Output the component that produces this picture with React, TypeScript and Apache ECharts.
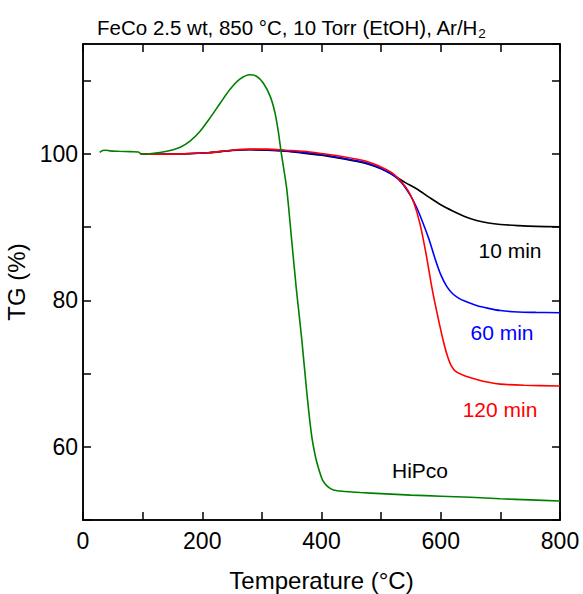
import React, { useEffect, useRef } from "react";
import * as echarts from "echarts";

const FONT = '"Liberation Sans", Arial, Helvetica, sans-serif';

// HiPco (green)
const hipcoT = [28, 33, 38, 45, 60, 80, 93, 97, 99, 112, 129, 146, 163, 179, 196, 213, 230, 246, 263, 280, 291, 302, 314, 322, 328, 332, 337, 342, 350, 358, 367, 375, 383, 390, 396, 402, 410, 420, 440, 465, 500, 550, 600, 650, 700, 750, 800];
const hipcoTG = [100.2, 100.45, 100.5, 100.4, 100.35, 100.3, 100.25, 100.0, 99.95, 100.02, 100.18, 100.45, 100.9, 101.7, 103.05, 104.9, 106.9, 108.75, 110.2, 110.8, 110.6, 109.7, 107.85, 105.6, 102.8, 100.4, 97.8, 95.0, 88.2, 81.4, 74.6, 67.7, 61.8, 58.6, 56.8, 55.4, 54.6, 54.1, 53.9, 53.75, 53.6, 53.4, 53.25, 53.1, 52.9, 52.75, 52.6];

// 10 min (black)
const min10T = [97, 130, 170, 210, 250, 280, 310, 340, 370, 400, 430, 460, 480, 500, 520, 540, 560, 580, 600, 620, 640, 660, 680, 700, 730, 760, 800];
const min10TG = [100.0, 99.95, 100.0, 100.15, 100.45, 100.55, 100.5, 100.35, 100.1, 99.8, 99.4, 98.95, 98.55, 97.95, 97.1, 96.1, 95.2, 94.1, 93.05, 92.2, 91.45, 90.9, 90.55, 90.35, 90.2, 90.1, 90.05];

// 60 min (blue)
const min60T = [97, 130, 170, 210, 250, 280, 310, 340, 370, 400, 430, 460, 480, 500, 520, 535, 550, 560, 570, 580, 590, 600, 610, 620, 630, 640, 660, 680, 700, 730, 760, 800];
const min60TG = [100.0, 99.95, 100.0, 100.15, 100.5, 100.6, 100.55, 100.4, 100.2, 99.9, 99.5, 99.05, 98.65, 98.0, 97.1, 96.0, 94.2, 92.6, 90.6, 88.4, 85.8, 83.5, 81.9, 80.9, 80.3, 79.9, 79.3, 78.9, 78.6, 78.4, 78.35, 78.3];

// 120 min (red)
const min120T = [97, 130, 170, 210, 250, 280, 310, 340, 370, 400, 430, 460, 480, 500, 520, 535, 545, 555, 565, 575, 585, 595, 605, 612, 618, 625, 640, 660, 680, 700, 740, 800];
const min120TG = [100.0, 99.95, 100.0, 100.15, 100.5, 100.65, 100.65, 100.5, 100.35, 100.05, 99.7, 99.25, 98.85, 98.2, 97.3, 96.1, 95.0, 93.3, 90.5, 86.5, 81.8, 77.8, 74.2, 72.2, 71.0, 70.3, 69.7, 69.2, 68.8, 68.55, 68.4, 68.3];

const xMin = 0, xMax = 800, xStep = 100;
const yMin = 50, yMax = 115, yStep = 10;

const zip = (a: number[], b: number[]) => a.map((v, i) => [v, b[i]]);

export default function App() {
  const ref = useRef<HTMLDivElement>(null);
  useEffect(() => {
    document.body.style.margin = "0";
    const chart = echarts.init(ref.current!, undefined, { renderer: "svg" });
    const axisLine = { show: true, onZero: false, lineStyle: { color: "#000", width: 1.5 } };
    const axisTick = { show: true, inside: true, length: 8, lineStyle: { color: "#000", width: 1.5 } };
    const lineSeries = (name: string, t: number[], v: number[], color: string) => ({
      type: "line",
      name,
      data: zip(t, v),
      showSymbol: false,
      symbol: "none",
      smooth: 0.3,
      lineStyle: { color, width: 1.6 },
      itemStyle: { color },
      z: 2,
    });
    chart.setOption({
      animation: false,
      title: {
        text: "FeCo 2.5 wt, 850 °C, 10 Torr (EtOH), Ar/H{sub|2}",
        left: 286,
        top: 9,
        textAlign: "center",
        textStyle: {
          fontFamily: FONT,
          fontSize: 20.5,
          fontWeight: "normal",
          color: "#000",
          lineHeight: 26,
          rich: {
            sub: { fontFamily: FONT, fontSize: 13.5, verticalAlign: "bottom", lineHeight: 14, color: "#000" },
          },
        },
      },
      grid: {
        left: 83, right: 23, top: 44, bottom: 74,
        outerBoundsMode: "none", containLabel: false,
        show: true, borderColor: "#000", borderWidth: 1.5, backgroundColor: "transparent",
      },
      xAxis: [
        {
          type: "value",
          min: xMin,
          max: xMax,
          interval: xStep,
          name: "Temperature (°C)",
          nameLocation: "middle",
          nameGap: 48,
          nameTextStyle: { fontFamily: FONT, fontSize: 24, color: "#000" },
          axisLine,
          axisTick,
          splitLine: { show: false },
          axisLabel: {
            fontFamily: FONT,
            fontSize: 23,
            color: "#000",
            margin: 9,
            formatter: (v: number) => (v % 200 === 0 ? String(v) : ""),
          },
        },
        {
          type: "value",
          position: "top",
          min: xMin,
          max: xMax,
          interval: xStep,
          axisLine,
          axisTick,
          splitLine: { show: false },
          axisLabel: { show: false },
        },
      ],
      yAxis: [
        {
          type: "value",
          min: yMin,
          max: yMax,
          interval: yStep,
          name: "TG (%)",
          nameLocation: "middle",
          nameGap: 38,
          nameTextStyle: { fontFamily: FONT, fontSize: 24, color: "#000" },
          axisLine,
          axisTick,
          splitLine: { show: false },
          axisLabel: {
            fontFamily: FONT,
            fontSize: 23,
            color: "#000",
            margin: 5,
            showMaxLabel: false,
            formatter: (v: number) => (v % 20 === 0 ? String(v) : ""),
          },
        },
        {
          type: "value",
          position: "right",
          min: yMin,
          max: yMax,
          interval: yStep,
          axisLine,
          axisTick,
          splitLine: { show: false },
          axisLabel: { show: false },
        },
      ],
      series: [
        lineSeries("10 min", min10T, min10TG, "#000000"),
        lineSeries("60 min", min60T, min60TG, "#0000ff"),
        lineSeries("120 min", min120T, min120TG, "#ff0000"),
        lineSeries("HiPco", hipcoT, hipcoTG, "#008000"),
      ],
      graphic: [
        { type: "text", x: 510, y: 250, style: { text: "10 min", fill: "#000", fontFamily: FONT, fontSize: 21, align: "center", verticalAlign: "middle", textAlign: "center", textVerticalAlign: "middle" } },
        { type: "text", x: 502, y: 332, style: { text: "60 min", fill: "#0000ff", fontFamily: FONT, fontSize: 21, align: "center", verticalAlign: "middle", textAlign: "center", textVerticalAlign: "middle" } },
        { type: "text", x: 500, y: 409, style: { text: "120 min", fill: "#ff0000", fontFamily: FONT, fontSize: 21, align: "center", verticalAlign: "middle", textAlign: "center", textVerticalAlign: "middle" } },
        { type: "text", x: 420, y: 470, style: { text: "HiPco", fill: "#000", fontFamily: FONT, fontSize: 21, align: "center", verticalAlign: "middle", textAlign: "center", textVerticalAlign: "middle" } },
      ],
    });
    return () => chart.dispose();
  }, []);
  return <div ref={ref} style={{ width: 583, height: 594 }} />;
}
